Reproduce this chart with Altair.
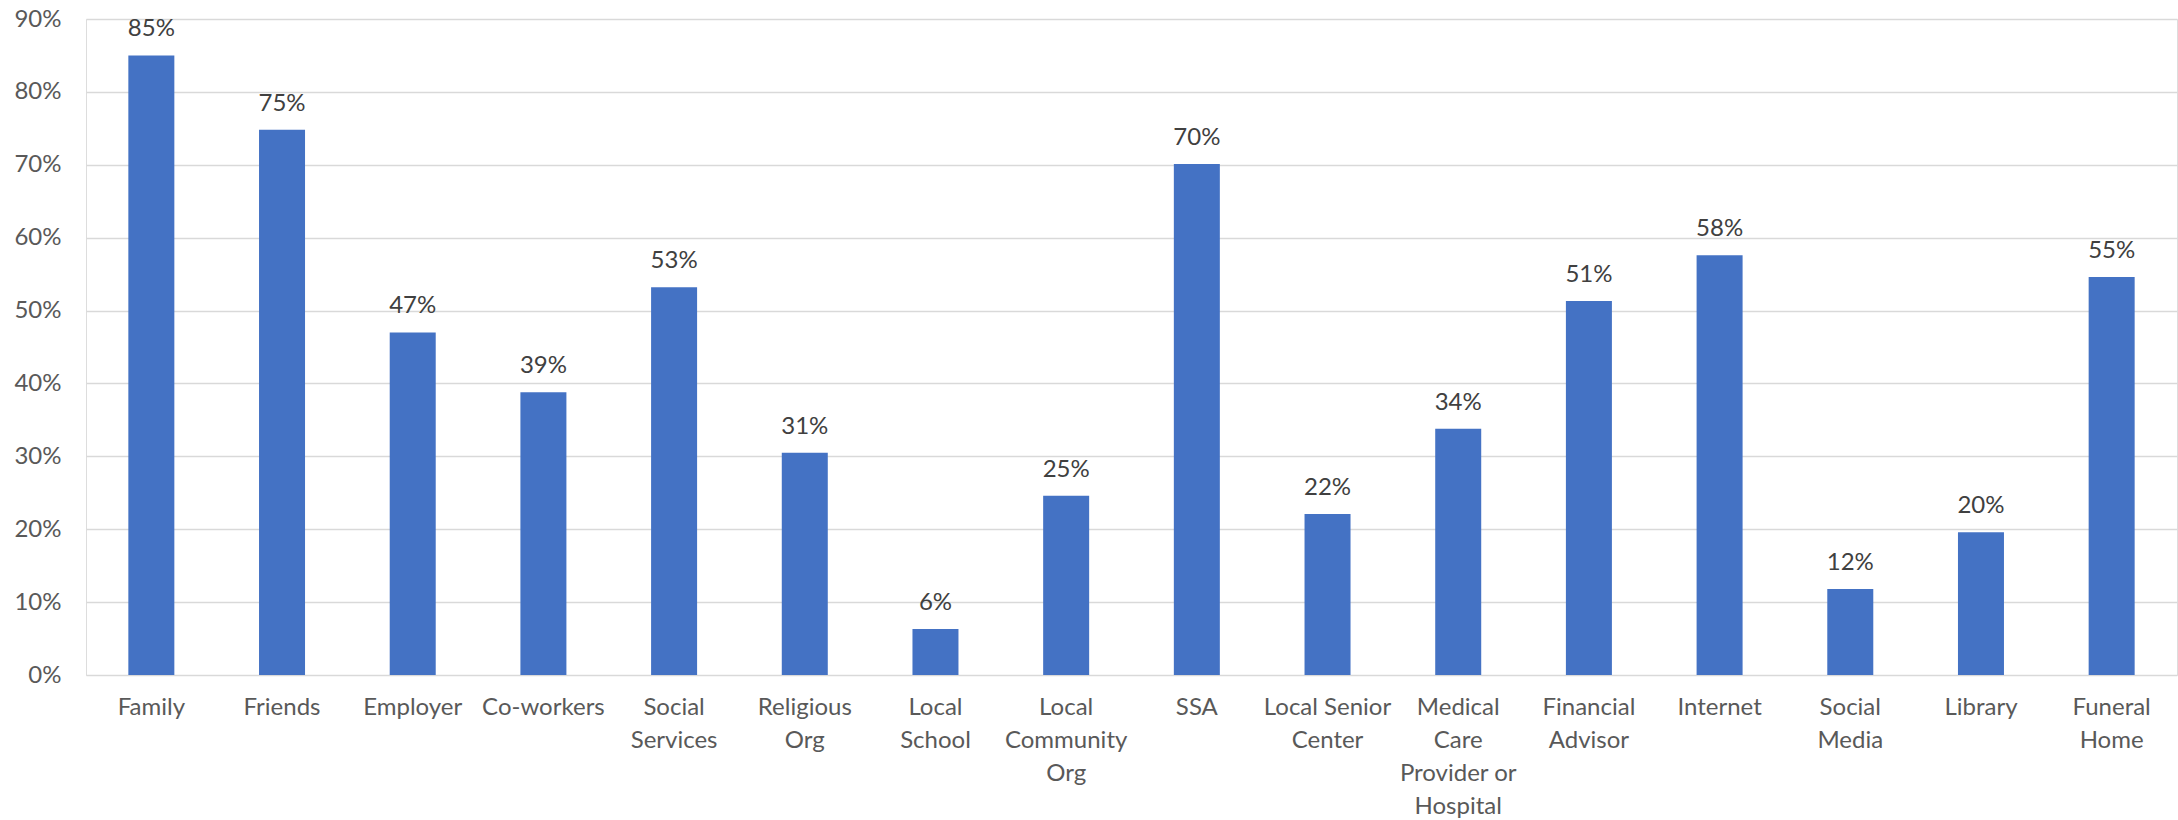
import altair as alt
import pandas as pd

categories = [
    "Family", "Friends", "Employer", "Co-workers", "Social\nServices",
    "Religious\nOrg", "Local\nSchool", "Local\nCommunity\nOrg", "SSA",
    "Local Senior\nCenter", "Medical\nCare\nProvider or\nHospital",
    "Financial\nAdvisor", "Internet", "Social\nMedia", "Library",
    "Funeral\nHome",
]
values = [0.850, 0.748, 0.470, 0.388, 0.532, 0.305, 0.063, 0.246, 0.701,
          0.221, 0.338, 0.513, 0.576, 0.118, 0.196, 0.546]
y_ticks = [0, 0.1, 0.2, 0.3, 0.4, 0.5, 0.6, 0.7, 0.8, 0.9]

df = pd.DataFrame({"cat": categories, "val": values})

FONT = "Lato"

x = alt.X(
    "cat:N", sort=categories, title=None,
    scale=alt.Scale(paddingInner=0.648, paddingOuter=0.324),
    axis=alt.Axis(
        labelAngle=0, ticks=False, domain=False, grid=False,
        labelExpr="split(datum.label, '\\n')",
        labelFont=FONT, labelFontSize=24, labelColor="#595959",
        labelLineHeight=33, labelPadding=20, labelBaseline="top",
        labelLimit=300,
    ),
)
y = alt.Y(
    "val:Q", title=None,
    scale=alt.Scale(domain=[0, 0.9], nice=False),
    axis=alt.Axis(
        values=y_ticks, format=".0%", ticks=False, domain=False,
        grid=True, gridColor="#d9d9d9", gridWidth=1.3,
        labelFont=FONT, labelFontSize=24, labelColor="#595959",
        labelPadding=25,
    ),
)

bars = alt.Chart(df).mark_bar(color="#4472C4").encode(x=x, y=y)
labels = alt.Chart(df).mark_text(
    font=FONT, fontSize=24, color="#404040", baseline="alphabetic", dy=-19
).encode(x=x, y=y, text=alt.Text("val:Q", format=".0%"))

chart = (bars + labels).properties(
    width=2091, height=656,
    autosize=alt.AutoSizeParams(type="none"),
    padding={"left": 86, "top": 19, "right": 1, "bottom": 145},
).configure_view(stroke=None).configure(background="white")

chart.save("out.html", embed_options={"renderer": "svg", "actions": False})
